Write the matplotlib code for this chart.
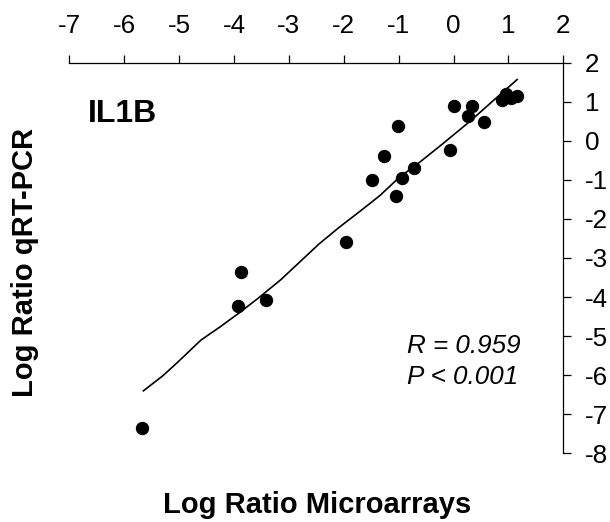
import matplotlib
matplotlib.use("Agg")
import matplotlib.pyplot as plt

plt.rcParams['font.family'] = ['Liberation Sans', 'DejaVu Sans']

# Data
micro_x = [-5.67, -3.88, -3.92, -3.42, -1.96, -1.48, -1.26, -1.05, -1.01, -0.93,
           -0.72, -0.07, 0.01, 0.27, 0.34, 0.56, 0.88, 0.95, 1.05, 1.15]
qpcr_y = [-7.34, -3.36, -4.23, -4.08, -2.59, -1.00, -0.39, -1.41, 0.38, -0.96,
          -0.70, -0.24, 0.89, 0.64, 0.89, 0.48, 1.04, 1.20, 1.10, 1.15]

fit_x = [-5.65, -5.30, -5.05, -4.90, -4.60, -4.25, -3.90, -3.55, -3.15, -2.80,
         -2.45, -2.07, -1.70, -1.34, -1.00, -0.60, -0.20, 0.30, 0.70, 1.16]
fit_y = [-6.40, -6.02, -5.70, -5.50, -5.10, -4.76, -4.40, -4.02, -3.56, -3.10,
         -2.64, -2.20, -1.80, -1.40, -0.95, -0.53, -0.08, 0.50, 1.00, 1.57]

x_ticks = [-7, -6, -5, -4, -3, -2, -1, 0, 1, 2]
y_ticks = [-8, -7, -6, -5, -4, -3, -2, -1, 0, 1, 2]

W, H = 610, 522
fig = plt.figure(figsize=(W / 100, H / 100), dpi=100)
left, right, top, bottom = 69.3, 563.3, 62.7, 453.3
ax = fig.add_axes([left / W, 1 - bottom / H, (right - left) / W, (bottom - top) / H])

ax.plot(fit_x, fit_y, color='black', lw=1.2, zorder=2)
ax.plot(micro_x, qpcr_y, 'o', color='black', markersize=8.6, zorder=3)

ax.set_xlim(-7, 2)
ax.set_ylim(-8, 2)
ax.set_xticks(x_ticks)
ax.set_yticks(y_ticks)
ax.set_xticklabels([str(v) for v in x_ticks])
ax.set_yticklabels([str(v) for v in y_ticks])

ax.xaxis.tick_top()
ax.yaxis.tick_right()
for s in ['left', 'bottom']:
    ax.spines[s].set_visible(False)
for s in ['top', 'right']:
    ax.spines[s].set_linewidth(0.9)
ax.tick_params(axis='x', direction='out', length=6, width=0.9, pad=12, labelsize=18.7)
ax.tick_params(axis='y', direction='out', length=6, width=0.9, pad=9.5, labelsize=18.7)
ax.patch.set_visible(False)

fig.text(161.7 / W + (310 / W) / 2, 1 - 513 / H, 'Log Ratio Microarrays',
         ha='center', va='baseline', fontsize=21, fontweight='bold')
fig.text(25 / W, 1 - 262 / H, 'Log Ratio qRT-PCR', rotation=90,
         ha='center', va='center', fontsize=21, fontweight='bold')
fig.text(88.3 / W, 1 - 121.7 / H, 'IL1B', ha='left', va='baseline',
         fontsize=23, fontweight='bold')
fig.text(407 / W, 1 - 352.7 / H, 'R = 0.959', ha='left', va='baseline',
         fontsize=18.7, style='italic')
fig.text(407 / W, 1 - 384 / H, 'P < 0.001', ha='left', va='baseline',
         fontsize=18.7, style='italic')

fig.savefig('out.png', dpi=100)
